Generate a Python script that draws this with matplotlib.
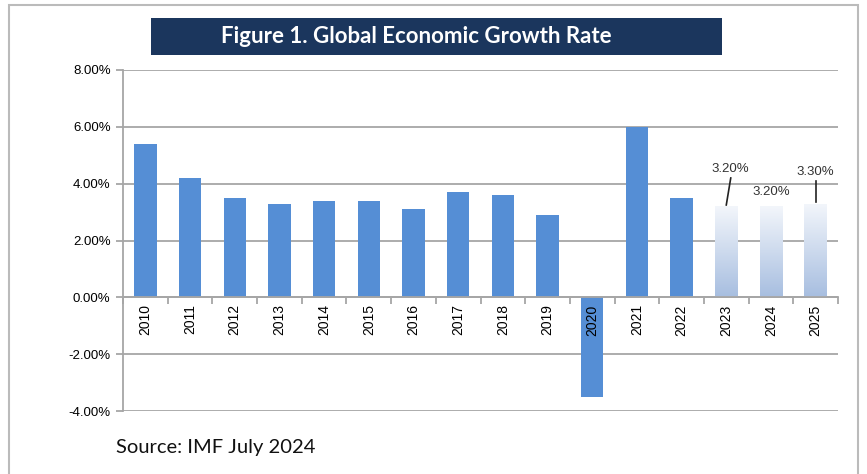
import numpy as np
import matplotlib
matplotlib.use("Agg")
import matplotlib.pyplot as plt
from matplotlib.patches import Rectangle
from matplotlib.colors import LinearSegmentedColormap

# datos
years = ['2010', '2011', '2012', '2013', '2014', '2015', '2016', '2017',
         '2018', '2019', '2020', '2021', '2022', '2023', '2024', '2025']
growth = [5.4, 4.2, 3.5, 3.3, 3.4, 3.4, 3.1, 3.7,
          3.6, 2.9, -3.5, 6.0, 3.5, 3.2, 3.2, 3.3]
forecast_years = ['2023', '2024', '2025']
forecast_labels = ['3.20%', '3.20%', '3.30%']
yticks = [-4, -2, 0, 2, 4, 6, 8]

plt.rcParams['font.family'] = ['Liberation Sans', 'DejaVu Sans']

fig = plt.figure(figsize=(8.67, 4.74), dpi=100)
ax = fig.add_axes([123/867, 1-411/474, 715/867, 341/474])

x = np.arange(len(years))
real = [y not in forecast_years for y in years]
ax.bar(x[real], np.array(growth)[real], width=0.5, color='#558ED5', zorder=3)

# barras de pronostico con degradado
cmap = LinearSegmentedColormap.from_list('fc', ['#A7BEE0', '#F3F6FB'])
grad = np.linspace(0, 1, 256).reshape(-1, 1)
for i, y in enumerate(years):
    if y in forecast_years:
        b = ax.bar(i, growth[i], width=0.5, color='none', zorder=3)[0]
        im = ax.imshow(grad, cmap=cmap, origin='lower', aspect='auto',
                       extent=[i-0.25, i+0.25, 0, growth[i]], zorder=3)
        im.set_clip_path(b)

ax.set_xlim(-0.5, len(years)-0.5)
ax.set_ylim(-4, 8)
ax.set_yticks(yticks)
ax.set_yticklabels(['%.2f%%' % v for v in yticks], fontsize=9.5)
# cuadricula por debajo de las barras
for v in yticks:
    ax.axhline(v, color='#A6A6A6', linewidth=1.3, zorder=1)

ax.set_xticks(x)
ax.set_xticklabels(years, fontsize=10.5)
ax.set_xticks(np.arange(-0.5, len(years)), minor=True)
ax.tick_params(axis='x', which='major', length=0, pad=5, labelrotation=90)
ax.tick_params(axis='x', which='minor', length=5, color='#A6A6A6', width=1.3)
ax.tick_params(axis='y', length=5, color='#A6A6A6', width=1.3, pad=4)
ax.xaxis.set_zorder(6)

for s in ['top', 'right']:
    ax.spines[s].set_visible(False)
ax.spines['bottom'].set_position(('data', 0))
ax.spines['bottom'].set_color('#A6A6A6')
ax.spines['bottom'].set_linewidth(1.3)
ax.spines['left'].set_color('#A6A6A6')
ax.spines['left'].set_linewidth(1.3)
ax.spines['bottom'].set_zorder(4)

# etiquetas de pronostico
offsets = {'2023': (0.1, 1.3, True), '2024': (0.0, 0.5, False), '2025': (0.0, 1.1, True)}
for y, lab in zip(forecast_years, forecast_labels):
    i = years.index(y)
    dx, dy, line = offsets[y]
    tx, ty = i + dx, growth[i] + dy
    ax.text(tx, ty, lab, ha='center', va='center', fontsize=9.5, color='#333333',
            zorder=6, bbox=dict(facecolor='white', edgecolor='none', pad=0.5))
    if line:
        ax.plot([tx, i], [ty-0.3, growth[i]+0.05], color='#222222', lw=1.2, zorder=5)

# titulo
fig.patches.append(Rectangle((151/867, 1-55/474), 571/867, 37/474,
                             transform=fig.transFigure, facecolor='#1B365D',
                             edgecolor='none'))
fig.text(416/867, 1-36.5/474, 'Figure 1. Global Economic Growth Rate', color='white',
         fontsize=16, fontweight='bold', family='Lato', ha='center', va='center')

fig.text(116/867, 1-447/474, 'Source: IMF July 2024', fontsize=14.5, family='Lato',
         ha='left', va='center', color='#111111')

# marco exterior
fig.patches.append(Rectangle((9/867, -0.1), 849/867, 1.1-5/474,
                             transform=fig.transFigure, facecolor='none',
                             edgecolor='#BBBBBB', linewidth=1.5))

fig.savefig('out.png', dpi=100)
